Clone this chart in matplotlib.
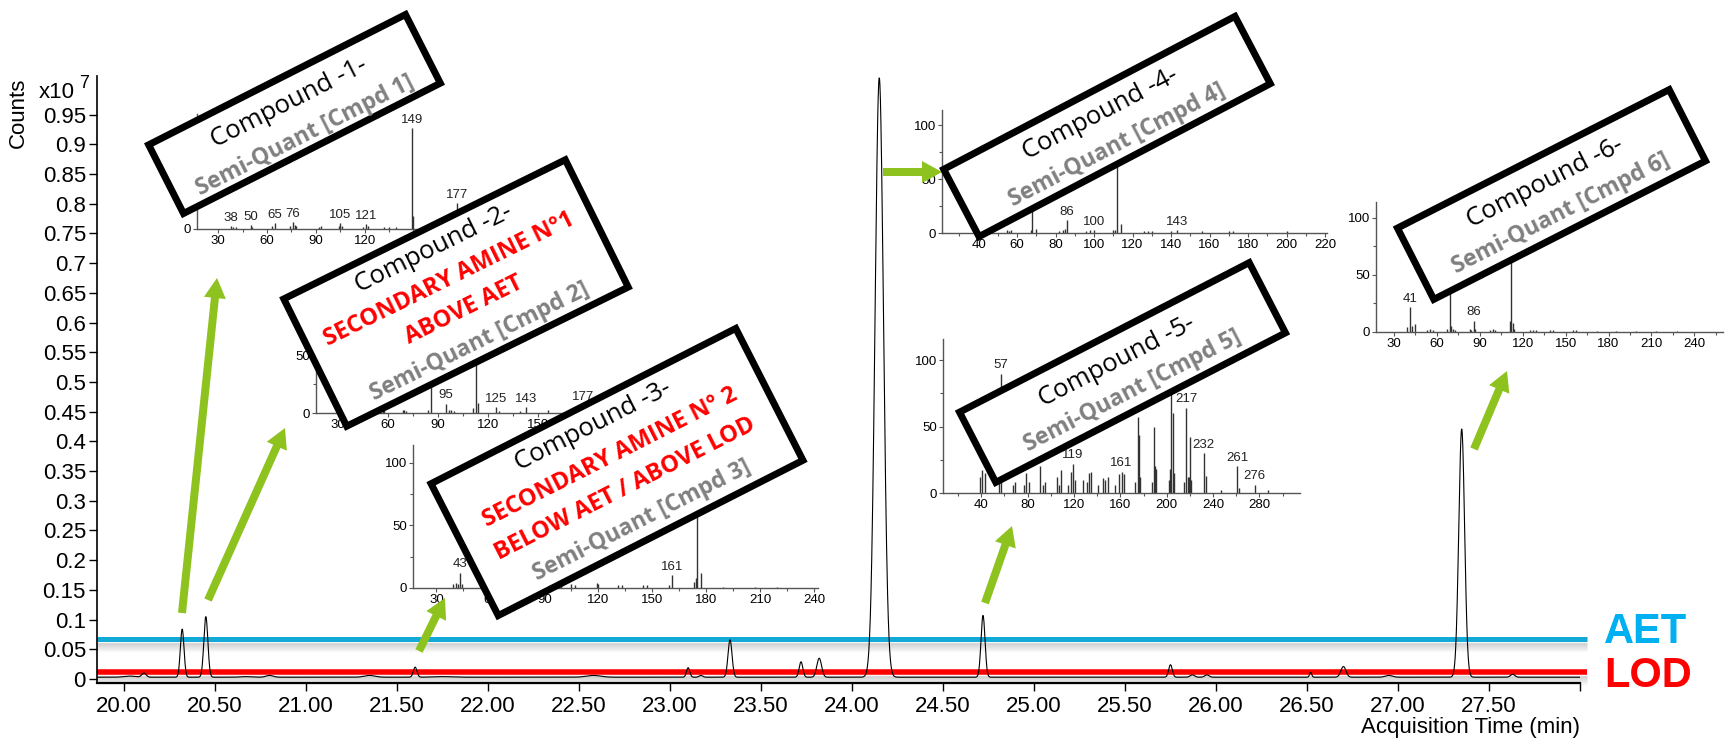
import numpy as np
import matplotlib
matplotlib.use('Agg')
import matplotlib.pyplot as plt
from matplotlib import font_manager
from matplotlib.patches import Polygon, FancyArrow
from matplotlib.transforms import offset_copy

W, H = 1725, 741

# fonts
names = {f.name for f in font_manager.fontManager.ttflist}
NARROW = 'Liberation Sans Narrow' if 'Liberation Sans Narrow' in names else 'Liberation Sans'
BOXFONT = 'Open Sans'

# chromatogram peaks (retention time, apex height in 1e7 counts, width)
peak_rt = [20.03, 20.11, 20.32, 20.45, 20.67, 20.80, 21.35, 21.60, 21.75, 22.58,
           23.10, 23.17, 23.33, 23.72, 23.82, 24.15, 24.72, 25.75, 25.87, 25.95,
           26.52, 26.70, 26.95, 27.35, 27.63]
peak_height = [0.005, 0.010, 0.084, 0.105, 0.004, 0.006, 0.006, 0.020, 0.004, 0.006,
               0.019, 0.006, 0.066, 0.029, 0.035, 1.012, 0.107, 0.024, 0.007, 0.007,
               0.011, 0.021, 0.006, 0.421, 0.008]
peak_sigma = [0.03, 0.012, 0.010, 0.011, 0.03, 0.02, 0.03, 0.010, 0.05, 0.04,
              0.009, 0.010, 0.011, 0.010, 0.013, 0.023, 0.011, 0.010, 0.012, 0.012,
              0.006, 0.014, 0.02, 0.016, 0.012]
baseline = 0.003

aet_level = 0.0673
lod_level = 0.0123

# mass spectra of the six compounds
cmpd1_mz = [38, 39, 41, 50, 51, 63, 65, 74, 76, 77, 78, 92, 93, 104, 105, 106, 119, 121, 122,
            132, 135, 139, 149, 150, 167, 177]
cmpd1_int = [3, 2, 2, 4, 2, 3, 6, 3, 7, 4, 3, 2, 3, 3, 6, 3, 2, 5, 3, 2, 2, 2, 100, 13, 4, 26]
cmpd1_lab = [38, 50, 65, 76, 105, 121, 149, 177]

cmpd2_mz = [41, 43, 55, 57, 58, 69, 70, 71, 84, 86, 95, 97, 98, 100, 111, 113, 114, 125, 127,
            139, 143, 156, 177]
cmpd2_int = [4, 3, 3, 4, 3, 3, 3, 2, 3, 40, 8, 3, 3, 2, 4, 100, 9, 5, 2, 2, 5, 3, 7]
cmpd2_lab = [86, 95, 113, 125, 143, 177]

cmpd3_mz = [39, 41, 42, 43, 44, 55, 57, 69, 71, 83, 85, 97, 99, 105, 107, 119, 120, 131, 133,
            145, 147, 159, 161, 173, 174, 175, 177, 189, 207, 219]
cmpd3_int = [3, 4, 3, 12, 3, 3, 4, 3, 2, 2, 3, 2, 2, 3, 2, 4, 3, 2, 2, 2, 2, 2, 10, 5, 8, 100,
             12, 1, 1, 1]
cmpd3_lab = [43, 161, 175]

cmpd4_mz = [41, 43, 55, 56, 57, 67, 68, 70, 82, 84, 85, 86, 96, 98, 100, 110, 111, 112, 114,
            126, 128, 130, 140, 143, 156, 170, 172, 200]
cmpd4_int = [2, 2, 3, 2, 3, 3, 45, 4, 2, 3, 4, 12, 2, 3, 3, 3, 3, 100, 8, 2, 2, 2, 2, 3, 2, 2, 2, 2]
cmpd4_lab = [68, 86, 100, 112, 143]

cmpd5_mz = [39, 41, 43, 55, 57, 67, 69, 77, 79, 81, 91, 93, 95, 105, 107, 109, 115, 117, 119,
            121, 128, 131, 133, 135, 141, 145, 147, 149, 155, 159, 161, 163, 173, 175, 176,
            177, 187, 189, 190, 191, 202, 203, 204, 205, 206, 215, 217, 218, 219, 220, 221,
            232, 234, 247, 261, 262, 276, 287]
cmpd5_int = [12, 17, 15, 8, 90, 6, 8, 6, 15, 8, 20, 6, 8, 12, 6, 17, 6, 16, 22, 10, 10, 8, 15,
             16, 6, 11, 10, 12, 6, 14, 16, 14, 8, 57, 44, 12, 8, 50, 20, 18, 10, 18, 100, 60,
             15, 8, 64, 12, 12, 42, 10, 30, 13, 2, 20, 4, 6, 2]
cmpd5_lab = [57, 119, 161, 217, 232, 261, 276]

cmpd6_mz = [39, 41, 43, 45, 53, 55, 57, 67, 69, 70, 71, 73, 83, 84, 86, 87, 97, 99, 101, 111,
            112, 113, 114, 125, 127, 129, 139, 141, 155, 157, 172, 185, 199, 213, 228]
cmpd6_int = [4, 22, 5, 7, 2, 3, 2, 3, 50, 5, 3, 2, 3, 2, 10, 3, 2, 3, 2, 10, 100, 8, 3, 2, 2,
             2, 2, 2, 2, 2, 1, 1, 1, 1, 1]
cmpd6_lab = [41, 69, 86, 112]

# box texts
box1_lines = ['Compound -1-', 'Semi-Quant [Cmpd 1]']
box2_lines = ['Compound -2-', 'SECONDARY AMINE N°1', 'ABOVE AET', 'Semi-Quant [Cmpd 2]']
box3_lines = ['Compound -3-', 'SECONDARY AMINE N° 2', 'BELOW AET / ABOVE LOD', 'Semi-Quant [Cmpd 3]']
box4_lines = ['Compound -4-', 'Semi-Quant [Cmpd 4]']
box5_lines = ['Compound -5-', 'Semi-Quant [Cmpd 5]']
box6_lines = ['Compound -6-', 'Semi-Quant [Cmpd 6]']


def px_rect(x0, y0, x1, y1):
    # image pixel box (y down) -> figure fraction
    return [x0 / W, 1 - y1 / H, (x1 - x0) / W, (y1 - y0) / H]


fig = plt.figure(figsize=(W / 100, H / 100), dpi=100)

# ---------- main chromatogram ----------
ax = fig.add_axes(px_rect(97, 76, 1580, 683))
t = np.linspace(19.852, 28.0, 6000)
sig = np.full_like(t, baseline)
for rt, h, s in zip(peak_rt, peak_height, peak_sigma):
    sig += (h - baseline) * np.exp(-0.5 * ((t - rt) / s) ** 2)
ax.plot(t, sig, color='black', lw=0.8, zorder=3)

for sp in ['top', 'right']:
    ax.spines[sp].set_visible(False)
ax.spines['left'].set_linewidth(1.2)
ax.spines['bottom'].set_linewidth(1.6)

yt = np.round(np.arange(0, 0.951, 0.05), 2)
ax.set_yticks(yt)
ax.set_yticklabels([('%.2f' % v).rstrip('0').rstrip('.') for v in yt], family=NARROW, fontsize=16)
xt = np.arange(20.0, 28.01, 0.5)
ax.set_xticks(xt)
ax.set_xticklabels(['%.2f' % v if v < 27.9 else '' for v in xt], family=NARROW, fontsize=16)
ax.tick_params(axis='y', length=6, width=1, pad=2)
ax.tick_params(axis='x', length=6, width=1, pad=3)
ax.set_xlim(19.852, 28.0)
ax.set_ylim(-0.0067, 1.015)

# AET / LOD lines with a soft shadow
x_end = 28.04
for lvl, col, lw in [(aet_level, '#12A9D6', 3.6), (lod_level, '#FF0000', 4.0)]:
    for k in range(1, 10):
        tr = offset_copy(ax.transData, fig=fig, x=0, y=-(lw * 0.7 + k), units='dots')
        ax.plot([19.852, x_end], [lvl, lvl], color='#7a7a7a', alpha=0.3 * (1 - k / 10),
                lw=1.0, transform=tr, clip_on=False, zorder=1, solid_capstyle='butt')
    ax.plot([19.852, x_end], [lvl, lvl], color=col, lw=lw, clip_on=False, zorder=2,
            solid_capstyle='butt')


# ---------- mass spectrum insets ----------
def inset(box, xlim, ylim, mz, inten, lab, step, yticks=(0, 50, 100)):
    a = fig.add_axes(px_rect(*box), zorder=5)
    a.patch.set_visible(False)
    a.vlines(mz, 0, inten, colors='#333333', lw=1.0)
    for m in lab:
        v = inten[mz.index(m)]
        a.text(m, v + 2, str(m), ha='center', va='bottom', fontsize=9.5, family=NARROW,
               color='#222222', clip_on=False)
    for sp in ['top', 'right']:
        a.spines[sp].set_visible(False)
    for sp in ['left', 'bottom']:
        a.spines[sp].set_color('#555555')
        a.spines[sp].set_linewidth(1.0)
    a.set_yticks(list(yticks))
    a.set_yticks([25, 75], minor=True)
    major = np.arange(step, xlim[1], step)
    minor = np.arange(step / 2, xlim[1], step / 2)
    a.set_xticks(major[major >= xlim[0]])
    a.set_xticks(minor[minor >= xlim[0]], minor=True)
    a.tick_params(which='major', length=3, width=0.8, color='#555555', labelsize=9.5, pad=1.5)
    a.tick_params(which='minor', length=2, width=0.8, color='#555555')
    for lbl in a.get_xticklabels() + a.get_yticklabels():
        lbl.set_family(NARROW)
    a.set_xlim(*xlim)
    a.set_ylim(*ylim)
    return a


inset((197, 114, 560, 229), (17, 240), (0, 114), cmpd1_mz, cmpd1_int, cmpd1_lab, 30, yticks=(0, 50))
inset((316, 281, 688, 413), (17, 240), (0, 114), cmpd2_mz, cmpd2_int, cmpd2_lab, 30)
inset((413, 445, 818, 588), (17, 242), (0, 114), cmpd3_mz, cmpd3_int, cmpd3_lab, 30)
inset((942, 110, 1327, 233), (21, 221), (0, 114), cmpd4_mz, cmpd4_int, cmpd4_lab, 20)
inset((943, 339, 1300, 493), (7, 315), (0, 116), cmpd5_mz, cmpd5_int, cmpd5_lab, 40)
inset((1376, 202, 1723, 332), (17.5, 260), (0, 114), cmpd6_mz, cmpd6_int, cmpd6_lab, 30)

# ---------- overlay: arrows, boxes, labels (image pixel coordinates) ----------
ov = fig.add_axes([0, 0, 1, 1], zorder=10)
ov.set_xlim(0, W)
ov.set_ylim(H, 0)
ov.axis('off')

green = '#8DC21F'
arrows = [((182, 613), (217, 278)), ((208, 600), (285, 428)), ((419, 651), (445, 598)),
          ((883, 172), (942, 172)), ((985, 603), (1012, 526)), ((1474, 449), (1507, 371))]
for (x0, y0), (x1, y1) in arrows:
    ov.add_patch(FancyArrow(x0, y0, x1 - x0, y1 - y0, width=8, head_width=22, head_length=20,
                            length_includes_head=True, color=green, lw=0, zorder=1))

compound_style = dict(color='black', fontweight='normal', fontsize=18.5)
red_style = dict(color='#FF0000', fontweight='bold', fontsize=17)
semi_style = dict(color='#808080', fontweight='bold', fontsize=16.5)

boxes = [
    ((294.5, 114), 294, 83, 26.9, box1_lines, [-12, 24]),
    ((456, 293), 320, 148, 26.3, box2_lines, [-50, -15, 19, 54]),
    ((617, 472), 348, 154, 27.0, box3_lines, [-52, -16, 19, 54]),
    ((1107, 126.5), 335, 82, 27.7, box4_lines, [-14, 21]),
    ((1122.5, 372.5), 332, 85, 27.3, box5_lines, [-12, 21]),
    ((1551.5, 194.5), 311, 86, 27.0, box6_lines, [-13, 21]),
]
for (cx, cy), L, S, ang, lines, offs in boxes:
    th = np.radians(ang)
    u = np.array([np.cos(th), -np.sin(th)])
    v = np.array([np.sin(th), np.cos(th)])
    c = np.array([cx, cy])
    hl, hs = (L - 6) / 2, (S - 6) / 2
    pts = [c - hl * u - hs * v, c + hl * u - hs * v, c + hl * u + hs * v, c - hl * u + hs * v]
    ov.add_patch(Polygon(pts, closed=True, facecolor='white', edgecolor='black', lw=5,
                         joinstyle='miter', zorder=2))
    for i, (txt, off) in enumerate(zip(lines, offs)):
        if i == 0:
            st = compound_style
        elif i == len(lines) - 1:
            st = semi_style
        else:
            st = red_style
        p = c + off * v
        ov.text(p[0], p[1], txt, rotation=ang, rotation_mode='anchor', ha='center',
                va='center', family=BOXFONT, zorder=3, **st)

# axis texts
ov.text(39, 93, 'x10', ha='left', va='center', fontsize=16, family=NARROW)
ov.text(79, 84, '7', ha='left', va='center', fontsize=13, family=NARROW)
ov.text(18, 113, 'Counts', rotation=90, ha='center', va='center', fontsize=16, family=NARROW)
ov.text(1580, 728, 'Acquisition Time (min)', ha='right', va='center', fontsize=16, family=NARROW)
ov.text(1604, 643, 'AET', ha='left', va='baseline', fontsize=30, fontweight='bold',
        family='Liberation Sans', color='#00B0F0')
ov.text(1604, 687, 'LOD', ha='left', va='baseline', fontsize=30, fontweight='bold',
        family='Liberation Sans', color='#FF0000')

fig.savefig('out.png', dpi=100, facecolor='white')
